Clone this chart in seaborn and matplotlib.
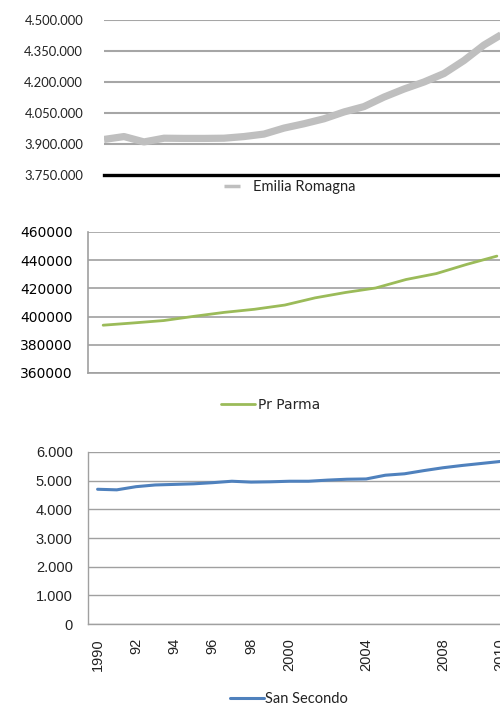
import numpy as np
import pandas as pd
import seaborn as sns
import matplotlib.pyplot as plt
from matplotlib.ticker import FuncFormatter

sns.set_theme(style="white")
plt.rcParams['font.family'] = ['Lato', 'DejaVu Sans']

# Emilia Romagna (one point per year, x axis hidden)
er_values = [3922000, 3936000, 3910000, 3928000, 3927000, 3927000, 3928000,
             3936000, 3948000, 3977000, 3998000, 4022000, 4055000, 4081000,
             4127000, 4166000, 4200000, 4241000, 4304000, 4379000, 4437000]
er_ticks = [3750000, 3900000, 4050000, 4200000, 4350000, 4500000]

# Provincia di Parma
pr_values = [393900, 395500, 397200, 400200, 403000, 405200, 408200,
             413300, 417100, 420300, 426300, 430500, 437000, 442900]
pr_ticks = [360000, 380000, 400000, 420000, 440000, 460000]

# San Secondo
ss_labels = ['1990', '', '92', '', '94', '', '96', '', '98', '', '2000',
             '', '', '', '2004', '', '', '', '2008', '', '', '2010']
ss_values = [4700, 4680, 4790, 4850, 4870, 4890, 4930, 4980, 4950, 4960, 4980,
             4980, 5020, 5050, 5060, 5190, 5240, 5350, 5450, 5530, 5600, 5670]
ss_ticks = [0, 1000, 2000, 3000, 4000, 5000, 6000]

dot_fmt = FuncFormatter(lambda v, p: f'{v:,.0f}'.replace(',', '.'))

W, H = 500, 706
fig = plt.figure(figsize=(5, 7.06), dpi=100)


def box(left, right, top, bottom):
    return [left / W, 1 - bottom / H, (right - left) / W, (bottom - top) / H]


# ---------- top: Emilia Romagna ----------
ax1 = fig.add_axes(box(104, 511, 20, 175))
df1 = pd.DataFrame({'x': np.arange(len(er_values)), 'v': er_values})
sns.lineplot(data=df1, x='x', y='v', ax=ax1, color='#BFBFBF', linewidth=5.2,
             label='Emilia Romagna', solid_capstyle='butt')
ax1.set_xlim(0, 20.35)
ax1.set_ylim(3750000, 4500000)
ax1.set_yticks(er_ticks)
ax1.yaxis.set_major_formatter(dot_fmt)
ax1.set_xticks([])
for t in er_ticks[1:]:
    ax1.axhline(t, color='#A6A6A6', linewidth=1.5, zorder=0)
for s in ['left', 'right', 'top']:
    ax1.spines[s].set_visible(False)
ax1.spines['bottom'].set_color('black')
ax1.spines['bottom'].set_linewidth(2.4)
ax1.tick_params(axis='y', length=0, pad=15, labelsize=9.4, labelcolor='#222222')
ax1.set_xlabel('')
ax1.set_ylabel('')
leg1 = ax1.legend(loc='center', bbox_to_anchor=(290 / W, 1 - 187 / H),
                  bbox_transform=fig.transFigure, frameon=False,
                  handlelength=1.1, handletextpad=0.9, fontsize=10.5)
leg1.get_lines()[0].set_linewidth(2.5)
for t in leg1.get_texts():
    t.set_color('#222222')

# ---------- middle: Pr Parma ----------
ax2 = fig.add_axes(box(88, 512, 232, 373))
df2 = pd.DataFrame({'x': np.arange(len(pr_values)), 'v': pr_values})
sns.lineplot(data=df2, x='x', y='v', ax=ax2, color='#9BBB59', linewidth=2.0,
             label='Pr Parma')
ax2.set_xlim(-0.5, 13.5)
ax2.set_ylim(360000, 460000)
ax2.set_yticks(pr_ticks)
ax2.set_xticks([])
ax2.grid(axis='y', color='#A0A0A0', linewidth=1.2)
ax2.set_axisbelow(True)
for s in ['right', 'top']:
    ax2.spines[s].set_visible(False)
for s in ['left', 'bottom']:
    ax2.spines[s].set_color('#A0A0A0')
    ax2.spines[s].set_linewidth(1.2)
ax2.tick_params(axis='y', length=0, pad=11, labelsize=10, labelcolor='black')
ax2.set_xlabel('')
ax2.set_ylabel('')
leg2 = ax2.legend(loc='center', bbox_to_anchor=(271 / W, 1 - 405 / H),
                  bbox_transform=fig.transFigure, frameon=False,
                  handlelength=2.4, handletextpad=0.25,
                  prop={'family': 'DejaVu Sans', 'size': 10})

# ---------- bottom: San Secondo ----------
ax3 = fig.add_axes(box(88, 510, 452, 624))
df3 = pd.DataFrame({'x': np.arange(len(ss_values)), 'v': ss_values})
sns.lineplot(data=df3, x='x', y='v', ax=ax3, color='#4F81BD', linewidth=2.2,
             label='San Secondo')
ax3.set_xlim(-0.5, len(ss_values) - 0.5)
ax3.set_ylim(0, 6000)
ax3.set_yticks(ss_ticks)
ax3.yaxis.set_major_formatter(dot_fmt)
ax3.set_xticks(np.arange(len(ss_labels)))
ax3.set_xticklabels(ss_labels, rotation=90)
ax3.grid(axis='y', color='#A0A0A0', linewidth=1.0)
ax3.set_axisbelow(True)
for s in ['right', 'top']:
    ax3.spines[s].set_visible(False)
for s in ['left', 'bottom']:
    ax3.spines[s].set_color('#A0A0A0')
    ax3.spines[s].set_linewidth(1.0)
ax3.tick_params(axis='both', length=0, labelsize=10.5, labelcolor='#222222')
ax3.tick_params(axis='y', pad=11)
ax3.tick_params(axis='x', pad=10)
ax3.set_xlabel('')
ax3.set_ylabel('')
leg3 = ax3.legend(loc='center', bbox_to_anchor=(289 / W, 1 - 699 / H),
                  bbox_transform=fig.transFigure, frameon=False,
                  handlelength=2.3, handletextpad=0.1, fontsize=10.5)
for t in leg3.get_texts():
    t.set_color('#222222')

# fonts of the tick labels, set on the cached tick objects
fig.canvas.draw()
for lab in ax2.get_yticklabels():
    lab.set_family('DejaVu Sans')
for lab in ax3.get_yticklabels() + ax3.get_xticklabels():
    lab.set_family('Liberation Sans')

fig.savefig('out.png', dpi=100)
